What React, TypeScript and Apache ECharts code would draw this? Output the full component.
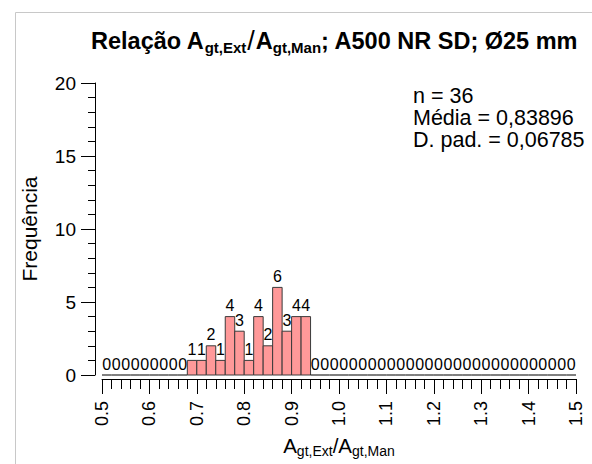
import React, { useEffect, useRef } from 'react';
import * as echarts from 'echarts';

const FONT = 'Arial, "Liberation Sans", sans-serif';

// Histogram bins: lower edge of first bin and bin width
const binStart = 0.5;
const binWidth = 0.02;
// Counts per bin (50 bins, 0.50 .. 1.50)
const counts = [
  0, 0, 0, 0, 0, 0, 0, 0, 0,
  1, 1, 2, 1, 4, 3, 1, 4, 2, 6, 3, 4, 4,
  0, 0, 0, 0, 0, 0, 0, 0, 0, 0, 0, 0, 0, 0,
  0, 0, 0, 0, 0, 0, 0, 0, 0, 0, 0, 0, 0, 0,
];
const xRange = [0.5, 1.5];
const xStep = 0.1;
const yRange = [0, 20];
const yStep = 5;
const statsLines = ['n = 36', 'Média = 0,83896', 'D. pad. = 0,06785'];
const yAxisTitle = 'Frequência';

export default function App() {
  const ref = useRef<HTMLDivElement>(null);
  useEffect(() => {
    if (!ref.current) return;
    const chart = echarts.init(ref.current, undefined, { renderer: 'svg' });
    const data = counts.map((c, i) => [binStart + i * binWidth, binStart + (i + 1) * binWidth, c]);
    chart.setOption({
      animation: false,
      backgroundColor: '#ffffff',
      title: {
        text: '{b|Relação A}{bs|gt,Ext}{sl|/}{b|A}{bs|gt,Man}{b|; A500 NR SD; Ø25 mm}',
        left: 86,
        top: 22,
        textStyle: {
          rich: {
            b: { fontSize: 23.5, fontWeight: 'bold', fontFamily: FONT, color: '#000' },
            bs: { fontSize: 15, fontWeight: 'bold', fontFamily: FONT, color: '#000', padding: [13, 0, 0, 0] },
            sl: { fontSize: 27, fontWeight: 'normal', fontFamily: FONT, color: '#000', padding: [0, 1, 0, 1] },
          },
        },
      },
      grid: { left: 102, right: 16, top: 83, bottom: 89, containLabel: false },
      xAxis: {
        type: 'value',
        min: xRange[0],
        max: xRange[1],
        interval: xStep,
        offset: 4,
        axisLine: { show: true, onZero: false, lineStyle: { color: '#000', width: 1 } },
        axisTick: { show: true, length: 15, lineStyle: { color: '#000', width: 1 } },
        minorTick: { show: true, splitNumber: 5, length: 10, lineStyle: { color: '#000', width: 1 } },
        splitLine: { show: false },
        minorSplitLine: { show: false },
        axisLabel: {
          rotate: 90,
          margin: 22,
          fontSize: 18,
          color: '#000',
          fontFamily: FONT,
          formatter: (v: number) => v.toFixed(1),
        },
        name: '{a|A}{s|gt,Ext}{a|/A}{s|gt,Man}',
        nameLocation: 'middle',
        nameGap: 53,
        nameTextStyle: {
          rich: {
            a: { fontSize: 20.5, fontFamily: FONT, color: '#000' },
            s: { fontSize: 14, fontFamily: FONT, color: '#000', padding: [12, 0, 0, 0] },
          },
        },
      },
      yAxis: {
        type: 'value',
        min: yRange[0],
        max: yRange[1],
        interval: yStep,
        offset: 7,
        axisLine: { show: true, onZero: false, lineStyle: { color: '#000', width: 1 } },
        axisTick: { show: true, length: 14, lineStyle: { color: '#000', width: 1 } },
        minorTick: { show: true, splitNumber: 5, length: 7, lineStyle: { color: '#000', width: 1 } },
        splitLine: { show: false },
        minorSplitLine: { show: false },
        axisLabel: { margin: 19, fontSize: 19, color: '#000', fontFamily: FONT },
        name: yAxisTitle,
        nameLocation: 'middle',
        nameGap: 55,
        nameTextStyle: { fontSize: 21, fontFamily: FONT, color: '#000' },
      },
      graphic: [
        {
          type: 'rect',
          left: 13,
          top: 10,
          shape: { width: 620, height: 500 },
          style: { fill: 'none', stroke: '#c8c8c8', lineWidth: 1 },
          silent: true,
          z: -10,
        },
        {
          type: 'text',
          left: 413,
          top: 85,
          style: {
            text: statsLines.join('\n'),
            fontSize: 21.5,
            lineHeight: 22,
            fontFamily: FONT,
            fill: '#000',
          },
        },
      ],
      series: [
        {
          type: 'custom',
          clip: false,
          data,
          encode: { x: [0, 1], y: 2 },
          renderItem: (params: any, api: any) => {
            const x0 = api.value(0);
            const x1 = api.value(1);
            const c = api.value(2);
            const top = api.coord([x0, c]);
            const bot = api.coord([x1, 0]);
            const children: any[] = [];
            if (c > 0) {
              children.push({
                type: 'rect',
                shape: { x: top[0], y: top[1], width: bot[0] - top[0], height: bot[1] - top[1] },
                style: { fill: '#ff9999', stroke: '#3a3a3a', lineWidth: 1 },
              });
            } else {
              children.push({
                type: 'line',
                shape: { x1: top[0], y1: bot[1], x2: bot[0], y2: bot[1] },
                style: { stroke: '#000', lineWidth: 1 },
              });
            }
            children.push({
              type: 'text',
              style: {
                text: String(c),
                x: (top[0] + bot[0]) / 2,
                y: top[1] - 3,
                align: 'center',
                verticalAlign: 'bottom',
                fontSize: 16,
                fontFamily: FONT,
                fill: '#000',
              },
            });
            return { type: 'group', children };
          },
        },
      ],
    });
    return () => chart.dispose();
  }, []);
  return <div ref={ref} style={{ position: 'fixed', left: 0, top: 0, width: 592, height: 464 }} />;
}
